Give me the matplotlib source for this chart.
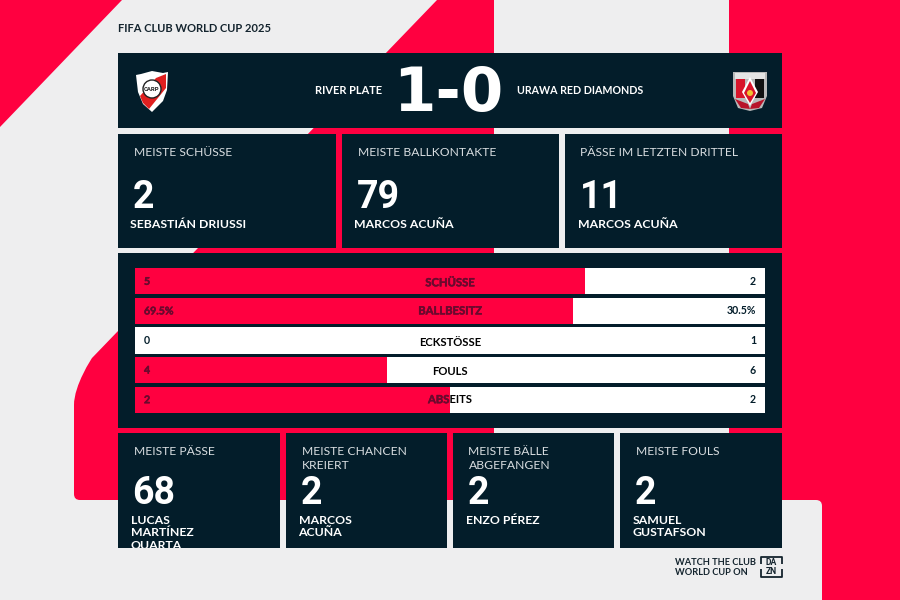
import matplotlib
matplotlib.use('Agg')
import matplotlib.pyplot as plt
import matplotlib.patheffects as pe
from matplotlib.patches import Rectangle, Polygon, Circle, FancyBboxPatch, PathPatch
from matplotlib.path import Path

RED = '#FF0040'
DARK = '#031D2A'
GREY = '#EEEEEF'
MAROON = '#6A0A2E'
TITLE_COL = '#D9DEE1'

# match header
competition = 'FIFA CLUB WORLD CUP 2025'
home_team = 'RIVER PLATE'
away_team = 'URAWA RED DIAMONDS'
score = '1-0'

# three cards under the header
top_titles = ['MEISTE SCHÜSSE', 'MEISTE BALLKONTAKTE', 'PÄSSE IM LETZTEN DRITTEL']
top_values = ['2', '79', '11']
top_names = ['SEBASTIÁN DRIUSSI', 'MARCOS ACUÑA', 'MARCOS ACUÑA']

# team stats
stat_labels = ['SCHÜSSE', 'BALLBESITZ', 'ECKSTÖSSE', 'FOULS', 'ABSEITS']
home_stats = [5, 69.5, 0, 4, 2]
away_stats = [2, 30.5, 1, 6, 2]
stat_units = ['', '%', '', '', '']

# four cards at the bottom
low_titles = ['MEISTE PÄSSE', 'MEISTE CHANCEN\nKREIERT', 'MEISTE BÄLLE\nABGEFANGEN', 'MEISTE FOULS']
low_values = ['68', '2', '2', '2']
low_names = ['LUCAS\nMARTÍNEZ\nQUARTA', 'MARCOS\nACUÑA', 'ENZO PÉREZ', 'SAMUEL\nGUSTAFSON']

footer = 'WATCH THE CLUB\nWORLD CUP ON'

fig = plt.figure(figsize=(9, 6), dpi=100, facecolor=GREY)
# whole canvas in pixels, y going down
ax = fig.add_axes([0, 0, 1, 1])
ax.set_xlim(0, 900)
ax.set_ylim(600, 0)
ax.axis('off')

# background shapes
ax.add_patch(Polygon([(0, 0), (122, 0), (0, 127)], fc=RED, ec='none'))
verts = [(437, 0), (494, 0), (494, 500), (80, 500), (74, 500), (74, 494), (74, 405),
         (74, 385), (92, 358), (92, 358), (437, 0)]
codes = [Path.MOVETO, Path.LINETO, Path.LINETO, Path.LINETO, Path.CURVE3, Path.CURVE3, Path.LINETO,
         Path.CURVE4, Path.CURVE4, Path.CURVE4, Path.CLOSEPOLY]
ax.add_patch(PathPatch(Path(verts, codes), fc=RED, ec='none'))
ax.add_patch(Rectangle((729, 0), 171, 500, fc=RED, ec='none'))
ax.add_patch(Rectangle((816, 500), 84, 100, fc=RED, ec='none'))
ax.add_patch(FancyBboxPatch((729, 500), 93, 110, boxstyle='round,pad=0,rounding_size=6', fc=GREY, ec='none'))


def panel(x0, y0, x1, y1):
    p = Rectangle((x0, y0), x1 - x0, y1 - y0, fc=DARK, ec='none', zorder=2)
    ax.add_patch(p)
    return p


panel(118, 53, 782, 128)
panel(118, 253, 782, 428)

ax.text(118, 28, competition, fontsize=8.0, family='Lato', weight='bold', color='#14242E', va='center')
ax.text(382, 90, home_team, fontsize=7.9, family='Lato', weight='bold', color='white', va='center', ha='right', zorder=3)
ax.text(517, 90, away_team, fontsize=7.7, family='Lato', weight='bold', color='white', va='center', zorder=3)
ax.text(448, 95, score, fontsize=44, family='DejaVu Sans', weight='bold', color='white', va='center', ha='center', zorder=3)


def card(box, title, value, name, tx, vy, ny):
    p = panel(*box)
    ax.text(tx, box[1] + 13, title, fontsize=8.7, family='Lato', color=TITLE_COL, va='top',
            linespacing=1.3, zorder=3)
    ax.text(tx - 1, vy, value, fontsize=27, family='Roboto', weight='bold', color='white',
            va='center', zorder=3)
    t = ax.text(tx - 3, ny, name, fontsize=8.8, family='Lato', weight='bold', color='white',
                va='top', linespacing=1.13, zorder=3, clip_on=True)
    t.set_clip_path(p)


top_boxes = [(118, 134, 336, 248), (342, 134, 559, 248), (565, 134, 782, 248)]
for i in range(3):
    card(top_boxes[i], top_titles[i], top_values[i], top_names[i], top_boxes[i][0] + 15.5, 197, 219)

low_boxes = [(118, 433, 280, 548), (286, 433, 447, 548), (453, 433, 614, 548), (620, 433, 782, 548)]
for i in range(4):
    card(low_boxes[i], low_titles[i], low_values[i], low_names[i], low_boxes[i][0] + 15.5, 493, 515)

# stat bars, share of the two teams on a 0-1 axis
bar_ax = fig.add_axes([135 / 900, 1 - 413 / 600, 630 / 900, 145 / 600])
bar_ax.set_xlim(0, 1)
bar_ax.set_ylim(4.45, -0.45)
bar_ax.axis('off')
rows = list(range(len(stat_labels)))
shares = [h / (h + a) for h, a in zip(home_stats, away_stats)]
bar_ax.barh(rows, [1] * len(rows), height=0.89, color='white')
red_bars = bar_ax.barh(rows, shares, height=0.89, color=RED)
white_clip = [Rectangle((s, r - 0.45), 1 - s, 0.9, transform=bar_ax.transData) for s, r in zip(shares, rows)]

# dark text looks thin on the red, so thicken it a little
heavy = [pe.withStroke(linewidth=0.35, foreground=MAROON)]
label_shift = [0.05, 0, 0.08, 0.05, 0]
for r in rows:
    h_txt = f'{home_stats[r]}{stat_units[r]}'
    a_txt = f'{away_stats[r]}{stat_units[r]}'
    left = bar_ax.text(9 / 630, r, h_txt, fontsize=7.6, family='Lato', weight='bold', color=DARK, va='center')
    if shares[r] > 0:
        left.set_color(MAROON)
        left.set_path_effects(heavy)
    bar_ax.text(621 / 630, r, a_txt, fontsize=7.6, family='Lato', weight='bold', color=DARK, va='center', ha='right')
    # label changes colour where the red bar passes under it
    on_red = bar_ax.text(0.5, r + label_shift[r], stat_labels[r], fontsize=8.1, family='Lato', weight='bold',
                         color=MAROON, va='center', ha='center', clip_on=True, path_effects=heavy)
    on_red.set_clip_path(red_bars[r])
    on_white = bar_ax.text(0.5, r + label_shift[r], stat_labels[r], fontsize=8.1, family='Lato', weight='bold',
                           color='#000000', va='center', ha='center', clip_on=True)
    on_white.set_clip_path(white_clip[r])

# River Plate crest
ax.add_patch(Polygon([(136, 75), (141, 74), (152, 71), (163, 73), (168, 72), (167, 90), (163, 101), (152, 112),
                      (143, 104), (138, 92)], fc='white', ec='none', zorder=3))
ax.add_patch(Polygon([(156, 78), (166, 74), (166, 88), (149, 109), (143, 103), (140, 96)], fc='#E02020', ec='none', zorder=3))
ax.add_patch(Circle((152, 89), 9, fc='white', ec='#222222', lw=1.0, zorder=4))
ax.text(152, 89.5, 'CARP', fontsize=4.3, family='Roboto', weight='bold', color='#222222', ha='center', va='center', zorder=5)

# Urawa crest
ax.add_patch(Polygon([(733, 72), (767, 72), (767, 96), (762, 108), (750, 111), (738, 108), (733, 96)],
                     fc='#B9B9B9', ec='none', zorder=3))
ax.add_patch(Rectangle((735, 73), 30, 6, fc='#E4E4E4', ec='none', zorder=3))
ax.add_patch(Rectangle((736, 79), 9, 19, fc='#D8142A', ec='none', zorder=3))
ax.add_patch(Rectangle((755, 79), 9, 19, fc='#111111', ec='none', zorder=3))
ax.add_patch(Polygon([(750, 77), (758, 92), (750, 106), (742, 92)], fc='white', ec='none', zorder=3))
ax.add_patch(Polygon([(750, 81), (756, 93), (750, 103), (744, 93)], fc='#D8142A', ec='none', zorder=3))
ax.add_patch(Circle((750, 93), 3, fc='#F2C230', ec='none', zorder=4))
ax.add_patch(Polygon([(735, 99), (748, 104), (750, 109), (741, 108)], fc='#B8142A', ec='none', zorder=4))
ax.add_patch(Polygon([(765, 99), (752, 104), (750, 109), (759, 108)], fc='#B8142A', ec='none', zorder=4))

# footer and DAZN mark
ax.text(675, 567.5, footer, fontsize=6.7, family='Lato', weight='bold', color='#14242E', va='center', linespacing=1.05)
ax.plot([761, 761, 782, 782], [564, 556.5, 556.5, 564], color='#14242E', lw=1.3, solid_capstyle='butt')
ax.plot([761, 761, 782, 782], [569, 576.5, 576.5, 569], color='#14242E', lw=1.3, solid_capstyle='butt')
ax.text(771.5, 566.8, 'DA\nZN', fontsize=6.2, family='Roboto', weight='bold', color='#14242E', ha='center',
        va='center', linespacing=1.0)

fig.savefig('out.png', dpi=100, facecolor=GREY)
